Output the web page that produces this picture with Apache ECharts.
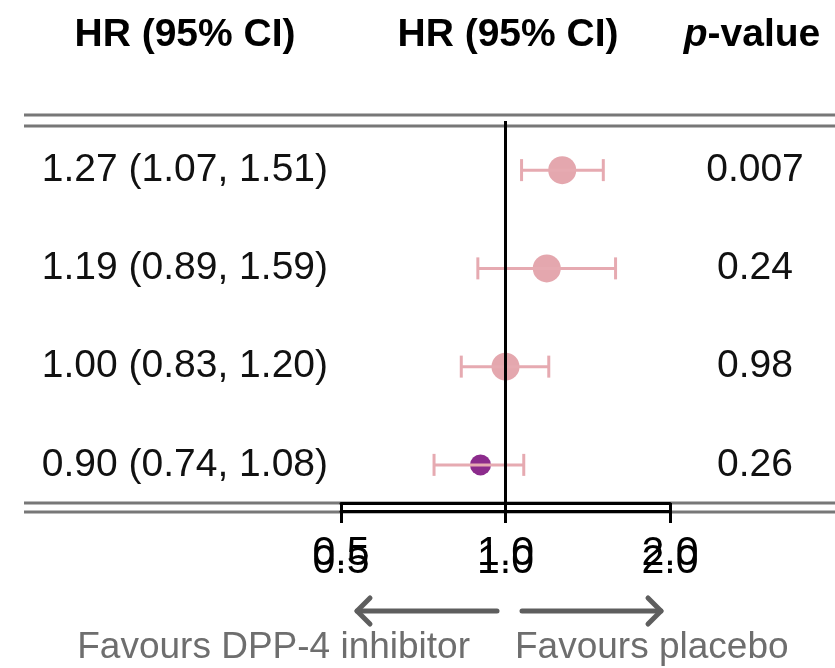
<!DOCTYPE html>
<html>
<head>
<meta charset="utf-8">
<script src="https://cdn.jsdelivr.net/npm/echarts@6/dist/echarts.min.js"></script>
<style>
  html, body { margin: 0; padding: 0; background: #fff; }
  #chart { width: 835px; height: 668px; }
</style>
</head>
<body>
<div id="chart"></div>
<script>
// Hazard ratios with 95% confidence limits, one row per outcome
const hr      = [1.27, 1.19, 1.00, 0.90];
const ciLow   = [1.07, 0.89, 0.83, 0.74];
const ciHigh  = [1.51, 1.59, 1.20, 1.08];
const pValues = ['0.007', '0.24', '0.98', '0.26'];
const xTicks  = [0.5, 1.0, 2.0];

// Marker appearance per row
const pointStyles = [
  { size: 28, color: '#e4a7ae' },
  { size: 28, color: '#e4a7ae' },
  { size: 28, color: '#e4a7ae' },
  { size: 21, color: '#8c2b8c' }
];

const FONT = '"Liberation Sans", Arial, Helvetica, sans-serif';
const ciLabels = hr.map((v, i) =>
  v.toFixed(2) + ' (' + ciLow[i].toFixed(2) + ', ' + ciHigh[i].toFixed(2) + ')');
const rowIdx = hr.map((_, i) => i);

const chart = echarts.init(document.getElementById('chart'));

function makeXAxis(offset, tickLen, showLine) {
  return {
    type: 'log',
    logBase: 2,
    min: xTicks[0],
    max: xTicks[xTicks.length - 1],
    position: 'bottom',
    offset: offset,
    axisLine: { show: showLine, lineStyle: { color: '#000', width: 3 } },
    axisTick: { show: true, length: tickLen, lineStyle: { color: '#000', width: 3 } },
    axisLabel: {
      margin: 30,
      fontFamily: FONT,
      fontSize: 41,
      color: '#000',
      formatter: v => Number(v).toFixed(1)
    },
    splitLine: { show: false }
  };
}

const rule = (y) => ({
  type: 'line',
  z: -1,
  shape: { x1: 24, y1: y, x2: 835, y2: y },
  style: { stroke: '#777', lineWidth: 3 }
});

const arrowStyle = { stroke: '#5e5e5e', lineWidth: 5, lineCap: 'round', lineJoin: 'round', fill: null };

const option = {
  animation: false,
  backgroundColor: '#fff',
  grid: { left: 341, right: 165, top: 121, height: 393 },
  xAxis: [makeXAxis(-11, 20, true), makeXAxis(-3, 12, true)],
  yAxis: [
    {
      type: 'category',
      data: ciLabels,
      inverse: true,
      position: 'left',
      axisLine: { show: false },
      axisTick: { show: false },
      axisLabel: { margin: 13, fontFamily: FONT, fontSize: 39, color: '#111' }
    },
    {
      type: 'category',
      data: pValues,
      inverse: true,
      position: 'right',
      axisLine: { show: false },
      axisTick: { show: false },
      axisLabel: { margin: 85, align: 'center', fontFamily: FONT, fontSize: 39, color: '#111' }
    }
  ],
  graphic: [
    rule(115), rule(126), rule(503), rule(512),
    {
      type: 'text', x: 185, y: 35,
      style: { text: 'HR (95% CI)', font: 'bold 39px ' + FONT, fill: '#000', align: 'center', verticalAlign: 'middle' }
    },
    {
      type: 'text', x: 508, y: 35,
      style: { text: 'HR (95% CI)', font: 'bold 39px ' + FONT, fill: '#000', align: 'center', verticalAlign: 'middle' }
    },
    {
      type: 'text', x: 752, y: 35,
      style: {
        text: '{i|p}-value', font: 'bold 39px ' + FONT, fill: '#000', align: 'center', verticalAlign: 'middle',
        rich: { i: { fontStyle: 'italic', fontWeight: 'bold', fontSize: 39, fontFamily: FONT } }
      }
    },
    // direction arrows beneath the axis
    { type: 'line', shape: { x1: 497, y1: 611, x2: 357, y2: 611 }, style: arrowStyle },
    { type: 'polyline', shape: { points: [[370, 598], [357, 611], [370, 624]] }, style: arrowStyle },
    { type: 'line', shape: { x1: 522, y1: 611, x2: 661, y2: 611 }, style: arrowStyle },
    { type: 'polyline', shape: { points: [[648, 598], [661, 611], [648, 624]] }, style: arrowStyle },
    {
      type: 'text', x: 470, y: 648,
      style: { text: 'Favours DPP-4 inhibitor', font: '37px ' + FONT, fill: '#6e6e6e', align: 'right', verticalAlign: 'middle' }
    },
    {
      type: 'text', x: 515, y: 648,
      style: { text: 'Favours placebo', font: '37px ' + FONT, fill: '#6e6e6e', align: 'left', verticalAlign: 'middle' }
    }
  ],
  series: [
    {
      type: 'scatter',
      z: 3,
      xAxisIndex: 0,
      yAxisIndex: 0,
      data: hr.map((v, i) => ({
        value: [v, rowIdx[i]],
        symbolSize: pointStyles[i].size,
        itemStyle: { color: pointStyles[i].color, opacity: 1 }
      })),
      markLine: {
        silent: true,
        symbol: 'none',
        label: { show: false },
        lineStyle: { color: '#000', width: 3, type: 'solid' },
        data: [{ xAxis: 1 }],
        z: 6
      }
    },
    {
      type: 'custom',
      z: 4,
      xAxisIndex: 0,
      yAxisIndex: 0,
      data: ciLow.map((lo, i) => [lo, ciHigh[i], rowIdx[i]]),
      encode: { x: [0, 1], y: 2 },
      renderItem: function (params, api) {
        const a = api.coord([api.value(0), api.value(2)]);
        const b = api.coord([api.value(1), api.value(2)]);
        const h = 11;
        const st = { stroke: '#e6aab1', lineWidth: 3 };
        return {
          type: 'group',
          children: [
            { type: 'line', shape: { x1: a[0], y1: a[1], x2: b[0], y2: b[1] }, style: st },
            { type: 'line', shape: { x1: a[0], y1: a[1] - h, x2: a[0], y2: a[1] + h }, style: st },
            { type: 'line', shape: { x1: b[0], y1: b[1] - h, x2: b[0], y2: b[1] + h }, style: st }
          ]
        };
      }
    }
  ]
};

chart.setOption(option);
</script>
</body>
</html>
